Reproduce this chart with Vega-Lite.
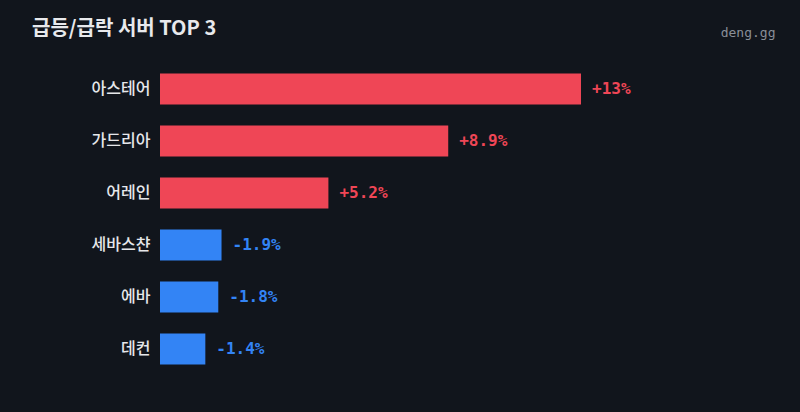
{
  "$schema": "https://vega.github.io/schema/vega-lite/v6.json",
  "width": 421,
  "height": 312,
  "autosize": {"type": "none"},
  "padding": {"left": 160, "top": 63, "right": 219, "bottom": 37},
  "background": "#11151c",
  "title": {
    "text": "급등/급락 서버 TOP 3",
    "anchor": "start",
    "frame": "group",
    "orient": "top",
    "dx": -128,
    "offset": -13,
    "font": "Noto Sans CJK KR",
    "fontSize": 20,
    "fontWeight": "bold",
    "color": "#e8e9ec"
  },
  "data": {
    "values": [
      {"server": "아스테어", "change": 13, "magnitude": 13, "label": "+13%", "dir": "up"},
      {"server": "가드리아", "change": 8.9, "magnitude": 8.9, "label": "+8.9%", "dir": "up"},
      {"server": "어레인", "change": 5.2, "magnitude": 5.2, "label": "+5.2%", "dir": "up"},
      {"server": "세바스챤", "change": -1.9, "magnitude": 1.9, "label": "-1.9%", "dir": "down"},
      {"server": "에바", "change": -1.8, "magnitude": 1.8, "label": "-1.8%", "dir": "down"},
      {"server": "데컨", "change": -1.4, "magnitude": 1.4, "label": "-1.4%", "dir": "down"}
    ]
  },
  "encoding": {
    "y": {
      "field": "server",
      "type": "nominal",
      "sort": null,
      "scale": {"paddingInner": 0.4, "paddingOuter": 0.2},
      "axis": {
        "title": null,
        "domain": false,
        "ticks": false,
        "labelPadding": 10,
        "labelFont": "Noto Sans CJK KR",
        "labelFontSize": 16,
        "labelFontWeight": 500,
        "labelColor": "#e6e7ea"
      }
    },
    "x": {
      "field": "magnitude",
      "type": "quantitative",
      "scale": {"domain": [0, 13], "nice": false, "zero": true},
      "axis": {
        "orient": "top",
        "domain": false,
        "ticks": false,
        "labels": false,
        "grid": false,
        "title": "deng.gg",
        "titleAnchor": "end",
        "titleAlign": "right",
        "titleBaseline": "alphabetic",
        "titleX": 615,
        "titleY": -27,
        "titleFont": "DejaVu Sans Mono",
        "titleFontSize": 13,
        "titleFontWeight": "normal",
        "titleColor": "#8a8f98"
      }
    },
    "color": {
      "field": "dir",
      "type": "nominal",
      "scale": {"domain": ["up", "down"], "range": ["#ef4656", "#3384f5"]},
      "legend": null
    }
  },
  "layer": [
    {"mark": {"type": "bar", "cornerRadius": 0}},
    {
      "mark": {
        "type": "text",
        "align": "left",
        "baseline": "middle",
        "dx": 11,
        "font": "DejaVu Sans Mono",
        "fontSize": 16,
        "fontWeight": "bold"
      },
      "encoding": {"text": {"field": "label"}}
    }
  ],
  "config": {"view": {"stroke": null}}
}
